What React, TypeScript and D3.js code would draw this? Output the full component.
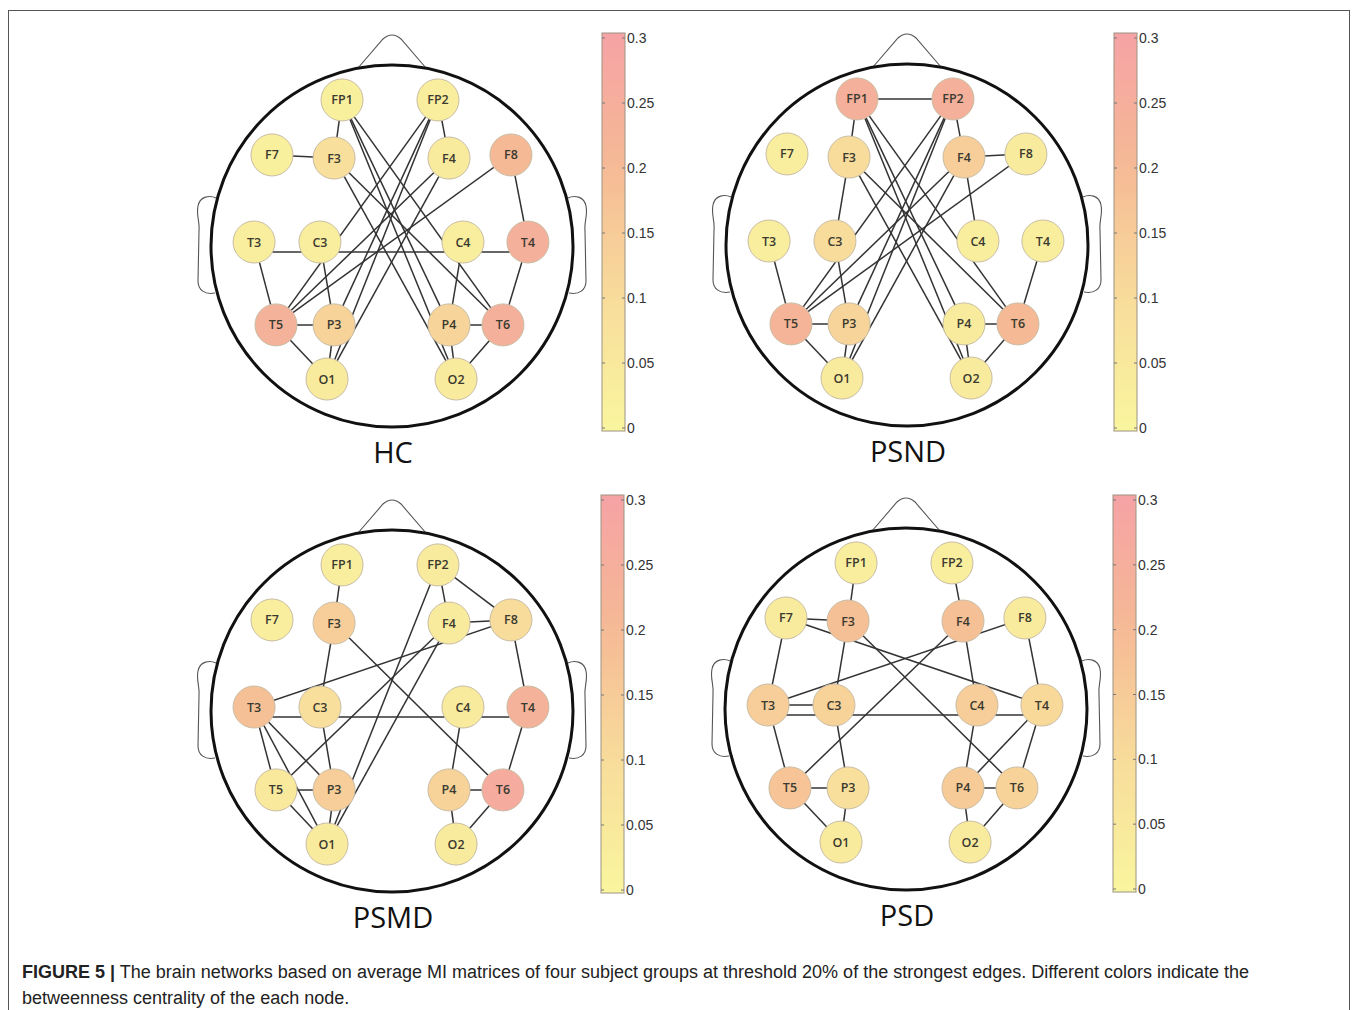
import React from 'react';
import * as d3 from 'd3';

// electrode layout (10-20 system), coordinates relative to the head radius
const electrodes = ['FP1', 'FP2', 'F7', 'F3', 'F4', 'F8', 'T3', 'C3', 'C4', 'T4', 'T5', 'P3', 'P4', 'T6', 'O1', 'O2'];
const electrodeX = [-0.276, 0.254, -0.663, -0.32, 0.315, 0.657, -0.762, -0.398, 0.392, 0.751, -0.641, -0.32, 0.315, 0.613, -0.359, 0.354];
const electrodeY = [-0.807, -0.807, -0.503, -0.486, -0.486, -0.503, -0.022, -0.022, -0.022, -0.022, 0.436, 0.436, 0.436, 0.436, 0.735, 0.735];

const groups = ['HC', 'PSND', 'PSMD', 'PSD'];

// betweenness centrality per node (same order as electrodes)
const hcValues = [0.02, 0.03, 0.02, 0.09, 0.04, 0.2, 0.03, 0.03, 0.03, 0.24, 0.23, 0.13, 0.12, 0.24, 0.04, 0.04];
const psndValues = [0.24, 0.24, 0.03, 0.1, 0.14, 0.04, 0.03, 0.1, 0.03, 0.03, 0.22, 0.12, 0.04, 0.2, 0.04, 0.04];
const psmdValues = [0.03, 0.04, 0.03, 0.14, 0.04, 0.1, 0.18, 0.09, 0.04, 0.23, 0.05, 0.14, 0.13, 0.26, 0.04, 0.04];
const psdValues = [0.03, 0.03, 0.04, 0.18, 0.18, 0.04, 0.14, 0.13, 0.14, 0.11, 0.17, 0.09, 0.15, 0.13, 0.04, 0.04];

// strongest edges per group
const hcEdges = [
  ['FP1', 'F3'], ['FP2', 'F4'], ['F7', 'F3'], ['F8', 'T4'], ['T3', 'T5'], ['C3', 'P3'], ['C4', 'P4'],
  ['T4', 'T6'], ['T5', 'P3'], ['P4', 'T6'], ['T5', 'O1'], ['P3', 'O1'], ['P4', 'O2'], ['T6', 'O2'],
  ['T3', 'T4'], ['FP1', 'T6'], ['FP1', 'P4'], ['FP1', 'O2'], ['F3', 'T6'], ['F3', 'O2'],
  ['FP2', 'T5'], ['FP2', 'P3'], ['FP2', 'O1'], ['F4', 'T5'], ['F4', 'O1'], ['F8', 'T5'],
];
const psndEdges = [
  ['FP1', 'FP2'], ['FP1', 'F3'], ['FP2', 'F4'], ['F4', 'F8'], ['F3', 'C3'], ['F4', 'C4'], ['T3', 'T5'],
  ['C3', 'P3'], ['T4', 'T6'], ['T5', 'P3'], ['P4', 'T6'], ['T5', 'O1'], ['P3', 'O1'], ['P4', 'O2'],
  ['T6', 'O2'], ['FP1', 'T6'], ['FP1', 'P4'], ['FP1', 'O2'], ['F3', 'T6'], ['F3', 'O2'],
  ['FP2', 'T5'], ['FP2', 'P3'], ['FP2', 'O1'], ['F4', 'T5'], ['F4', 'O1'], ['F8', 'T5'],
];
const psmdEdges = [
  ['FP1', 'F3'], ['FP2', 'F4'], ['FP2', 'F8'], ['F4', 'F8'], ['F8', 'T3'], ['F8', 'T4'], ['F3', 'C3'],
  ['F3', 'T6'], ['T3', 'T4'], ['T3', 'T5'], ['T3', 'O1'], ['T3', 'P3'], ['C3', 'P3'], ['T5', 'P3'],
  ['T5', 'O1'], ['P3', 'O1'], ['T5', 'F4'], ['O1', 'FP2'], ['O1', 'F4'], ['C4', 'P4'], ['T4', 'T6'],
  ['P4', 'T6'], ['P4', 'O2'], ['T6', 'O2'],
];
const psdEdges = [
  ['FP1', 'F3'], ['FP2', 'F4'], ['F7', 'F3'], ['F7', 'T3'], ['F7', 'T4'], ['F3', 'C3'], ['F3', 'T6'],
  ['F4', 'C4'], ['F4', 'T5'], ['F8', 'T4'], ['F8', 'T3'], ['T3', 'C3'], ['T3', 'T4'], ['T3', 'T5'],
  ['C3', 'P3'], ['C4', 'P4'], ['T4', 'T6'], ['T4', 'P4'], ['T5', 'P3'], ['T5', 'O1'], ['P3', 'O1'],
  ['P4', 'T6'], ['P4', 'O2'], ['T6', 'O2'],
];

const colorbarTicks = [0, 0.05, 0.1, 0.15, 0.2, 0.25, 0.3];
const colorbarTickLabels = ['0', '0.05', '0.1', '0.15', '0.2', '0.25', '0.3'];

const groupValues = [hcValues, psndValues, psmdValues, psdValues];
const groupEdges = [hcEdges, psndEdges, psmdEdges, psdEdges];

// panel placement
const layout = [
  { cx: 392, cy: 246, barX: 602, barHi: 38, barLo: 428 },
  { cx: 907, cy: 245, barX: 1114, barHi: 38, barLo: 428 },
  { cx: 392, cy: 711, barX: 601, barHi: 500, barLo: 890 },
  { cx: 906, cy: 709, barX: 1113, barHi: 500, barLo: 889 },
];

const R = 181;
const NODE_R = 21;

const color = d3.scaleLinear<string>()
  .domain([0, 0.1, 0.2, 0.3])
  .range(['#f9f59e', '#f8dc9b', '#f5b995', '#f6a2a5'])
  .interpolate(d3.interpolateRgb);

const Panel = ({ idx }: { idx: number }) => {
  const { cx, cy, barX, barHi, barLo } = layout[idx];
  const values = groupValues[idx];
  const edges = groupEdges[idx];

  const x = d3.scaleLinear().domain([-1, 1]).range([cx - R, cx + R]);
  const y = d3.scaleLinear().domain([-1, 1]).range([cy - R, cy + R]);
  const barScale = d3.scaleLinear().domain([0, 0.3]).range([barLo, barHi]);
  const gradId = `grad-${idx}`;

  const pos = (name: string) => {
    const i = electrodes.indexOf(name);
    return [x(electrodeX[i]), y(electrodeY[i])];
  };

  const nose = `M ${cx - 34},${cy - 178} L ${cx - 9},${cy - 207} Q ${cx},${cy - 215} ${cx + 9},${cy - 207} L ${cx + 34},${cy - 178}`;
  const ear = (s: number) =>
    `M ${cx + s * 176},${cy - 48} C ${cx + s * 182},${cy - 51} ${cx + s * 192},${cy - 50} ${cx + s * 194},${cy - 40}` +
    ` C ${cx + s * 196},${cy - 30} ${cx + s * 192},${cy - 25} ${cx + s * 193},${cy - 15}` +
    ` L ${cx + s * 194},${cy + 35} C ${cx + s * 194},${cy + 44} ${cx + s * 187},${cy + 49} ${cx + s * 177},${cy + 47}`;

  return (
    <g>
      <defs>
        <linearGradient id={gradId} x1="0" y1="1" x2="0" y2="0">
          {d3.range(0, 1.0001, 0.1).map(t => (
            <stop key={t} offset={t} stopColor={color(t * 0.3)} />
          ))}
        </linearGradient>
      </defs>

      {/* head outline */}
      <path d={nose} fill="none" stroke="#555" strokeWidth={1.1} />
      <path d={ear(-1)} fill="#fff" stroke="#555" strokeWidth={1.1} />
      <path d={ear(1)} fill="#fff" stroke="#555" strokeWidth={1.1} />
      <circle cx={cx} cy={cy} r={R} fill="none" stroke="#111" strokeWidth={3} />

      {/* edges */}
      {edges.map(([a, b], i) => {
        const [x1, y1] = pos(a);
        const [x2, y2] = pos(b);
        const long = Math.abs(y1 - y2) < 1 && Math.abs(x1 - x2) > 120;
        const off = long ? 10 : 0;
        return (
          <line key={i} x1={x1} y1={y1 + off} x2={x2} y2={y2 + off} stroke="#333" strokeWidth={1.5} />
        );
      })}

      {/* nodes */}
      {electrodes.map((name, i) => (
        <g key={name} transform={`translate(${x(electrodeX[i])},${y(electrodeY[i])})`}>
          <circle r={NODE_R} fill={color(values[i])} stroke="#c9bda5" strokeWidth={1} />
          <text textAnchor="middle" dy="0.36em" fontSize={12.5} fontWeight={600}
            fontFamily="'Open Sans', sans-serif" fill="#3b3a30">{name}</text>
        </g>
      ))}

      {/* colorbar */}
      <rect x={barX} y={barHi - 5} width={23} height={barLo - barHi + 8} fill={`url(#${gradId})`}
        stroke="#9c9484" strokeWidth={1} />
      {colorbarTicks.map((t, i) => (
        <g key={t}>
          <line x1={barX} x2={barX + 3} y1={barScale(t)} y2={barScale(t)} stroke="#777" />
          <line x1={barX + 20} x2={barX + 23} y1={barScale(t)} y2={barScale(t)} stroke="#777" />
          <text x={barX + 25} y={barScale(t)} dy="0.36em" fontSize={14}
            fontFamily="'Liberation Sans', Arial, sans-serif" fill="#333">{colorbarTickLabels[i]}</text>
        </g>
      ))}

      <text x={cx + 1} y={cy + 217} textAnchor="middle" fontSize={29}
        fontFamily="'Open Sans', sans-serif" fill="#111">{groups[idx]}</text>
    </g>
  );
};

export default function App() {
  return (
    <div style={{ position: 'absolute', left: 0, top: 0 }}>
      <svg width={1358} height={1010} style={{ display: 'block', background: '#fff' }}>
        <rect x={8.5} y={10.5} width={1341} height={1100} fill="#fff" stroke="#555" strokeWidth={1} />
        {groups.map((g, i) => <Panel key={g} idx={i} />)}
        <text x={22} y={978} fontSize={18} fontFamily="'Liberation Sans', Arial, sans-serif" fill="#222">
          <tspan fontWeight="bold">FIGURE 5 |</tspan>
          <tspan> The brain networks based on average MI matrices of four subject groups at threshold 20% of the strongest edges. Different colors indicate the</tspan>
        </text>
        <text x={22} y={1004} fontSize={18} fontFamily="'Liberation Sans', Arial, sans-serif" fill="#222">
          betweenness centrality of the each node.
        </text>
      </svg>
    </div>
  );
}
